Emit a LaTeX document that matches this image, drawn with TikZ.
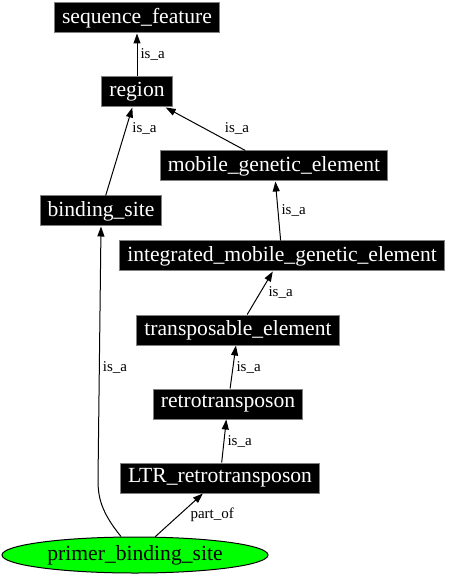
\documentclass[tikz,border=0pt]{standalone}
\usepackage{fontspec}
\setmainfont{Liberation Serif}
\usetikzlibrary{arrows.meta,shapes.geometric}

\begin{document}
\begin{tikzpicture}[x=0.5pt, y=-0.5pt, line width=0.5pt,
  term/.style={fill=black, draw=gray, text=white, inner xsep=3.75pt, inner ysep=0pt,
    minimum height=15pt, font=\fontsize{10.8}{12}\selectfont},
  leaf/.style={ellipse, fill=green, draw=black, inner sep=0pt, minimum width=133pt,
    minimum height=18pt, font=\fontsize{10.8}{12}\selectfont},
  rel/.style={-{Triangle[length=5pt,width=3.5pt]}},
  lbl/.style={anchor=west, inner sep=1.5pt, font=\fontsize{7.5}{9}\selectfont}]

  \useasboundingbox (0, 0) rectangle (448, 576);

  \node[term] (sf) at (137, 18) {sequence\_feature};
  \node[term] (reg) at (137, 92) {region};
  \node[term] (mge) at (274, 166) {mobile\_genetic\_element};
  \node[term] (bs) at (101, 211) {binding\_site};
  \node[term] (imge) at (282, 256) {integrated\_mobile\_genetic\_element};
  \node[term] (te) at (238, 330) {transposable\_element};
  \node[term] (rt) at (228, 404) {retrotransposon};
  \node[term] (ltr) at (220, 478) {LTR\_retrotransposon};
  \node[leaf] (pbs) at (135, 555) {primer\_binding\_site};
  \coordinate (bend) at (98, 480);

  \draw [rel] (reg) to node[lbl] {is\_a} (sf);
  \draw [rel] (mge) to node[lbl, pos=0.3, anchor=south west] {is\_a} (reg);
  \draw [rel] (bs) to node[lbl, pos=0.76, xshift=1.5pt] {is\_a} (reg);
  \draw [rel] (imge) to node[lbl] {is\_a} (mge);
  \draw [rel] (te) to node[lbl, xshift=2.5pt] {is\_a} (imge);
  \draw [rel] (rt) to node[lbl] {is\_a} (te);
  \draw [rel] (ltr) to node[lbl] {is\_a} (rt);
  \draw [rel] (pbs) to node[lbl, xshift=4pt] {part\_of} (ltr);
  \draw [rel] ([xshift=-7pt]pbs.north) .. controls (101, 512) and (98, 497) .. (bend)
    -- node[lbl, pos=0.445] {is\_a} (bs.south);

\end{tikzpicture}
\end{document}
